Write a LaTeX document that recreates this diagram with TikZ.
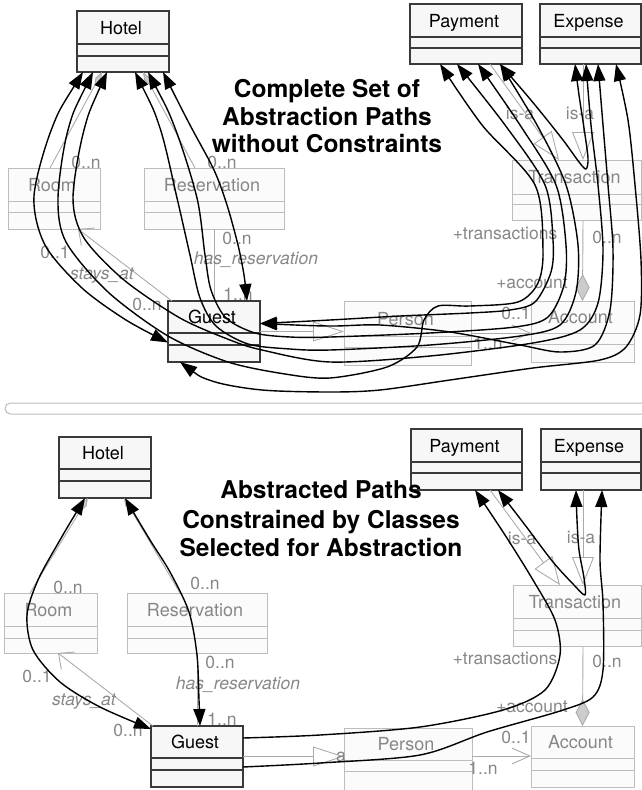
\documentclass[tikz,border=0pt]{standalone}
\usepackage{fontspec}
\setmainfont{TeX Gyre Heros}
\usetikzlibrary{arrows.meta,calc}

\definecolor{boxfill}{HTML}{F7F7F7}
\definecolor{boxdark}{HTML}{3A3A3A}
\definecolor{boxpale}{HTML}{BDBDBD}
\definecolor{palefill}{HTML}{FBFBFB}
\definecolor{textpale}{HTML}{878787}
\definecolor{linkpale}{HTML}{ABABAB}
\definecolor{diamondfill}{HTML}{CCCCCC}

\tikzset{
  active box/.style={draw=boxdark, fill=boxfill, line width=1.3pt},
  active rule/.style={draw=boxdark, line width=1.3pt},
  active name/.style={text=black, font=\fontsize{18}{21}\selectfont, text height=13pt, text depth=4pt, inner sep=0pt},
  passive box/.style={draw=boxpale, fill=palefill, line width=1pt},
  passive rule/.style={draw=boxpale, line width=1pt},
  passive name/.style={text=textpale, font=\fontsize{18}{21}\selectfont, text height=13pt, text depth=4pt, inner sep=0pt},
  lbl/.style={text=textpale, font=\fontsize{17.5}{20}\selectfont, inner sep=0pt},
  role/.style={text=textpale, font=\fontsize{17.5}{20}\selectfont\itshape, inner sep=0pt},
  heading/.style={font=\fontsize{24.5}{28}\selectfont\bfseries, anchor=base, inner sep=0pt},
  link/.style={draw=linkpale, line width=0.9pt},
  owner/.style={link, {Diamond[length=16pt,width=6pt,fill=diamondfill]}-},
  navigable/.style={link, {Straight Barb[length=12pt,width=22pt]}-},
  isa/.style={link, -{Triangle[open,length=28pt,width=22pt]}},
  generalization/.style={link, -{Triangle[open,length=31pt,width=20pt]}},
  towards/.style={link, -{Straight Barb[length=18pt,width=16pt]}},
  aggregate/.style={link, -{Diamond[length=27pt,width=14pt,fill=diamondfill]}},
  abstraction/.style={draw=black, line width=1.4pt, line join=round},
  >={Triangle[length=17pt,width=12pt]},
}

% UML class: kind, name, x, y, width, height, first rule, second rule, title
\newcommand\umlclass[9]{%
  \node[#1 box, anchor=north west, minimum width=#5pt, minimum height=#6pt,
        inner sep=0pt, outer sep=0pt] (#2) at (#3,#4) {};
  \draw[#1 rule] ($(#2.north west)+(0,#7)$) -- ($(#2.north east)+(0,#7)$);
  \draw[#1 rule] ($(#2.north west)+(0,#8)$) -- ($(#2.north east)+(0,#8)$);
  \node[#1 name] (#2-name) at ($(#2.north)+(-2,#7/2+2)$) {#9};
}

\begin{document}
\begin{tikzpicture}[x=1pt,y=-1pt]
\useasboundingbox (0,0) rectangle (642,790);
\clip (0,0) rectangle (642,790);
\fill[white] (0,0) rectangle (642,790);

% ---------------- upper diagram: classes ----------------
\umlclass{active}{hotel}{77}{11}{92}{61}{33}{45}{Hotel}
\umlclass{active}{payment}{410}{4}{112}{60}{33}{44}{Payment}
\umlclass{active}{expense}{540}{4}{101}{60}{33}{44}{Expense}
\umlclass{passive}{room}{8}{168}{92}{61}{33}{44}{Room}
\umlclass{passive}{reservation}{144}{168}{140}{61}{33}{44}{Reservation}
\umlclass{passive}{person}{344}{301}{127}{64}{35}{46}{Person}
\umlclass{passive}{account}{531}{301}{103}{61}{32}{43}{Account}
\umlclass{passive}{transaction}{512}{160}{129}{60}{34}{44}{Transaction}
\umlclass{active}{guest}{168}{301}{92}{61}{32}{44}{Guest}

% upper diagram: model associations
\draw[owner] ([xshift=-21pt]hotel.south) -- ([xshift=-4pt]room.north);
\draw[owner] ([xshift=20pt]hotel.south) -- ([xshift=-19pt]reservation.north);
\draw[navigable] ([xshift=24pt]room.south) -- ([xshift=-42pt]guest.north);
\draw[link] (reservation.south) -- (guest.north);
\draw[generalization] (guest.east) -- (guest.east -| person.west);
\draw[towards] (person.east) -- (person.east -| account.west);
\draw[aggregate] ([xshift=6.5pt]transaction.south) -- (account.north);
\draw[isa] ([xshift=24pt]payment.south) -- ([xshift=-17.5pt]transaction.north);
\draw[isa] ([xshift=-7.5pt]expense.south) -- ([xshift=6.5pt]transaction.north);

% upper diagram: association labels
\node[lbl] (u-room-n) at (86,162) {0..n};
\node[lbl] (u-res-n) at (222,162) {0..n};
\node[lbl] (u-stay-1) at (55,252) {0..1};
\node[role] (u-stay) at (102,276) {stays\_at};
\node[lbl] (u-stay-n) at (147,304) {0..n};
\node[lbl] (u-hasres-n) at (237,238) {0..n};
\node[role] (u-hasres) at (256,260) {has\_reservation};
\node[lbl] (u-hasres-1n) at (238,294) {1..n};
\node[lbl] (u-isa-p) at (520,113) {is-a};
\node[lbl] (u-isa-e) at (580,113) {is-a};
\node[lbl] (u-trans) at (505,233) {+transactions};
\node[lbl] (u-trans-n) at (607,237) {0..n};
\node[lbl] (u-acc) at (532,283) {+account};
\node[lbl] (u-acc-01) at (516,313) {0..1};
\node[lbl] (u-acc-1n) at (488,343) {1..n};

% upper diagram: heading
\node[heading] (u-title-a) at (327,97) {Complete Set of};
\node[heading] (u-title-b) at (327,125) {Abstraction Paths};
\node[heading] (u-title-c) at (327,152) {without Constraints};

% upper diagram: path end points
\coordinate (h-a) at ([xshift=-40pt]hotel.south);
\coordinate (h-b) at ([xshift=-30pt]hotel.south);
\coordinate (h-c) at ([xshift=-16pt]hotel.south);
\coordinate (h-d) at ([xshift=12pt]hotel.south);
\coordinate (h-e) at ([xshift=25pt]hotel.south);
\coordinate (h-f) at ([xshift=40pt]hotel.south);
\coordinate (g-l) at ([yshift=-11pt]guest.west);
\coordinate (g-t) at ([xshift=33pt]guest.north);
\coordinate (g-r) at ([yshift=8pt]guest.east);
\coordinate (g-b) at ([xshift=-34pt]guest.south);
\coordinate (p-a) at ([xshift=-26pt]payment.south);
\coordinate (p-b) at ([xshift=-9pt]payment.south);
\coordinate (p-c) at ([xshift=12pt]payment.south);
\coordinate (p-d) at ([xshift=34pt]payment.south);
\coordinate (e-a) at ([xshift=-15.5pt]expense.south);
\coordinate (e-b) at ([xshift=-4.5pt]expense.south);
\coordinate (e-c) at ([xshift=7.5pt]expense.south);
\coordinate (e-d) at ([xshift=25.5pt]expense.south);

% upper diagram: abstraction paths
\draw[abstraction,<->] plot[smooth] coordinates {(h-a) (52,128) (34,196) (45,245) (82,288) (126,320) (g-l)};
\draw[abstraction,<->] plot[smooth] coordinates {(h-f) (190,125) (214,170) (227,205) (238,245) (244,275) (g-t)};
\draw[abstraction,<->] plot[smooth] coordinates {(h-b) (68,130) (58,198) (66,242) (108,292) (168,336) (228,362) (285,374) (330,378) (387,367) (417,347) (424,320) (438,306) (470,306) (518,302) (538,283) (543,250) (535,185) (482,125) (p-a)};
\draw[abstraction,<->] plot[smooth] coordinates {(h-c) (84,130) (73,198) (84,238) (124,280) (180,318) (230,340) (262,350) (330,362) (430,356) (533,343) (580,330) (598,303) (603,250) (598,185) (591,125) (e-b)};
\draw[abstraction,<->] plot[smooth] coordinates {(h-d) (160,128) (177,198) (190,255) (200,298) (216,326) (248,344) (290,349) (330,350) (430,345) (520,336) (560,325) (576,292) (578,245) (566,185) (537,125) (p-d)};
\draw[abstraction,<->] plot[smooth] coordinates {(h-e) (175,128) (197,198) (205,255) (211,290) (226,318) (255,333) (290,337) (330,337) (430,333) (515,327) (548,317) (564,285) (566,245) (556,185) (520,125) (p-c)};
\draw[abstraction,<->] plot[smooth] coordinates {(g-r) (330,320) (400,316) (470,313) (510,310) (535,302) (551,272) (553,240) (545,185) (505,125) (p-b)};
\draw[abstraction,<->] plot[smooth] coordinates {(g-r) (330,326) (380,325) (450,332) (520,345) (560,352) (595,345) (610,310) (613,250) (608,185) (603,125) (e-c)};
\draw[abstraction,<->] plot[smooth] coordinates {(g-b) (212,381) (262,390) (330,392) (380,390) (450,380) (533,368) (600,360) (626,347) (640,315) (641,260) (635,185) (628,120) (e-d)};
\draw[abstraction,<->] plot[smooth] coordinates {(p-d) (535,105) (563,140) (579,162) (586,169) (588,158) (584,128) (579,95) (e-a)};

% ---------------- separator ----------------
\draw[draw=boxpale, line width=1pt, rounded corners=5.5pt] (5,403) rectangle (700,414);

% ---------------- lower diagram: classes ----------------
\umlclass{active}{hotel2}{59}{437}{92}{61}{32}{44}{Hotel}
\umlclass{active}{payment2}{411}{429}{111}{61}{33}{44}{Payment}
\umlclass{active}{expense2}{541}{429}{100}{61}{33}{44}{Expense}
\umlclass{passive}{room2}{4}{593}{93}{60}{33}{45}{Room}
\umlclass{passive}{reservation2}{127}{593}{140}{60}{33}{45}{Reservation}
\umlclass{passive}{person2}{344}{728}{128}{62}{32}{43}{Person}
\umlclass{passive}{account2}{531}{726}{103}{61}{32}{44}{Account}
\umlclass{passive}{transaction2}{513}{585}{128}{61}{33}{45}{Transaction}
\umlclass{active}{guest2}{151}{726}{92}{61}{32}{44}{Guest}

% lower diagram: model associations
\draw[owner] ([xshift=-17pt]hotel2.south) -- ([xshift=-20.5pt]room2.north);
\draw[owner] ([xshift=19pt]hotel2.south) -- ([xshift=-17pt]reservation2.north);
\draw[navigable] ([xshift=7.5pt]room2.south) -- ([xshift=-44pt]guest2.north);
\draw[link] (reservation2.south) -- (guest2.north);
\draw[generalization] (guest2.east) -- (guest2.east -| person2.west);
\draw[towards] ([yshift=3pt]person2.east) -- ([yshift=3pt]person2.east -| account2.west);
\draw[aggregate] ([xshift=6pt]transaction2.south) -- (account2.north);
\draw[isa] ([xshift=23.5pt]payment2.south) -- ([xshift=-17pt]transaction2.north);
\draw[isa] ([xshift=-8pt]expense2.south) -- ([xshift=6pt]transaction2.north);

% lower diagram: association labels
\node[lbl] (l-room-n) at (68,587) {0..n};
\node[lbl] (l-res-n) at (205,583) {0..n};
\node[lbl] (l-stay-1) at (37,676) {0..1};
\node[role] (l-stay) at (84,702) {stays\_at};
\node[lbl] (l-stay-n) at (128,730) {0..n};
\node[lbl] (l-hasres-n) at (220,662) {0..n};
\node[role] (l-hasres) at (238,685) {has\_reservation};
\node[lbl] (l-hasres-1n) at (222,719) {1..n};
\node[lbl] (l-isa-p) at (522,538) {is-a};
\node[lbl] (l-isa-e) at (581,537) {is-a};
\node[lbl] (l-trans) at (505,658) {+transactions};
\node[lbl] (l-trans-n) at (607,661) {0..n};
\node[lbl] (l-acc) at (532,707) {+account};
\node[lbl] (l-acc-01) at (516,737) {0..1};
\node[lbl] (l-acc-1n) at (483,768) {1..n};
\node[lbl] (l-gen) at (341,757) {a};

% lower diagram: heading
\node[heading] (l-title-a) at (321,498) {Abstracted Paths};
\node[heading] (l-title-b) at (321,528) {Constrained by Classes};
\node[heading] (l-title-c) at (321,556) {Selected for Abstraction};

% lower diagram: path end points
\coordinate (h2-a) at ([xshift=-20pt]hotel2.south);
\coordinate (h2-b) at ([xshift=20pt]hotel2.south);
\coordinate (g2-l) at ([yshift=-3pt]guest2.north west);
\coordinate (g2-t) at ([xshift=3pt]guest2.north);
\coordinate (g2-r) at ([yshift=18.5pt]guest2.east);
\coordinate (g2-s) at ([yshift=-10.5pt]guest2.east);
\coordinate (p2-a) at ([xshift=8.5pt]payment2.south);
\coordinate (p2-b) at ([xshift=31.5pt]payment2.south);
\coordinate (e2-a) at ([xshift=-15pt]expense2.south);
\coordinate (e2-b) at ([xshift=11pt]expense2.south);

% lower diagram: abstraction paths
\draw[abstraction,<->] plot[smooth] coordinates {(h2-a) (60,540) (38,580) (27,615) (33,650) (60,682) (100,707) (g2-l)};
\draw[abstraction,<->] plot[smooth] coordinates {(h2-b) (150,540) (170,572) (189,612) (197,655) (199,700) (g2-t)};
\draw[abstraction,<->] plot[smooth] coordinates {(p2-b) (525,525) (553,562) (574,585) (585,595) (584,578) (579,550) (577,520) (e2-a)};
\draw[abstraction,->] plot[smooth] coordinates {(g2-r) (320,735) (420,727) (503,710) (545,690) (560,655) (555,620) (533,580) (505,535) (p2-a)};
\draw[abstraction,->] plot[smooth] coordinates {(g2-s) (320,763) (420,755) (487,732) (560,711) (593,697) (603,670) (603,603) (600,560) (e2-b)};
\end{tikzpicture}
\end{document}
